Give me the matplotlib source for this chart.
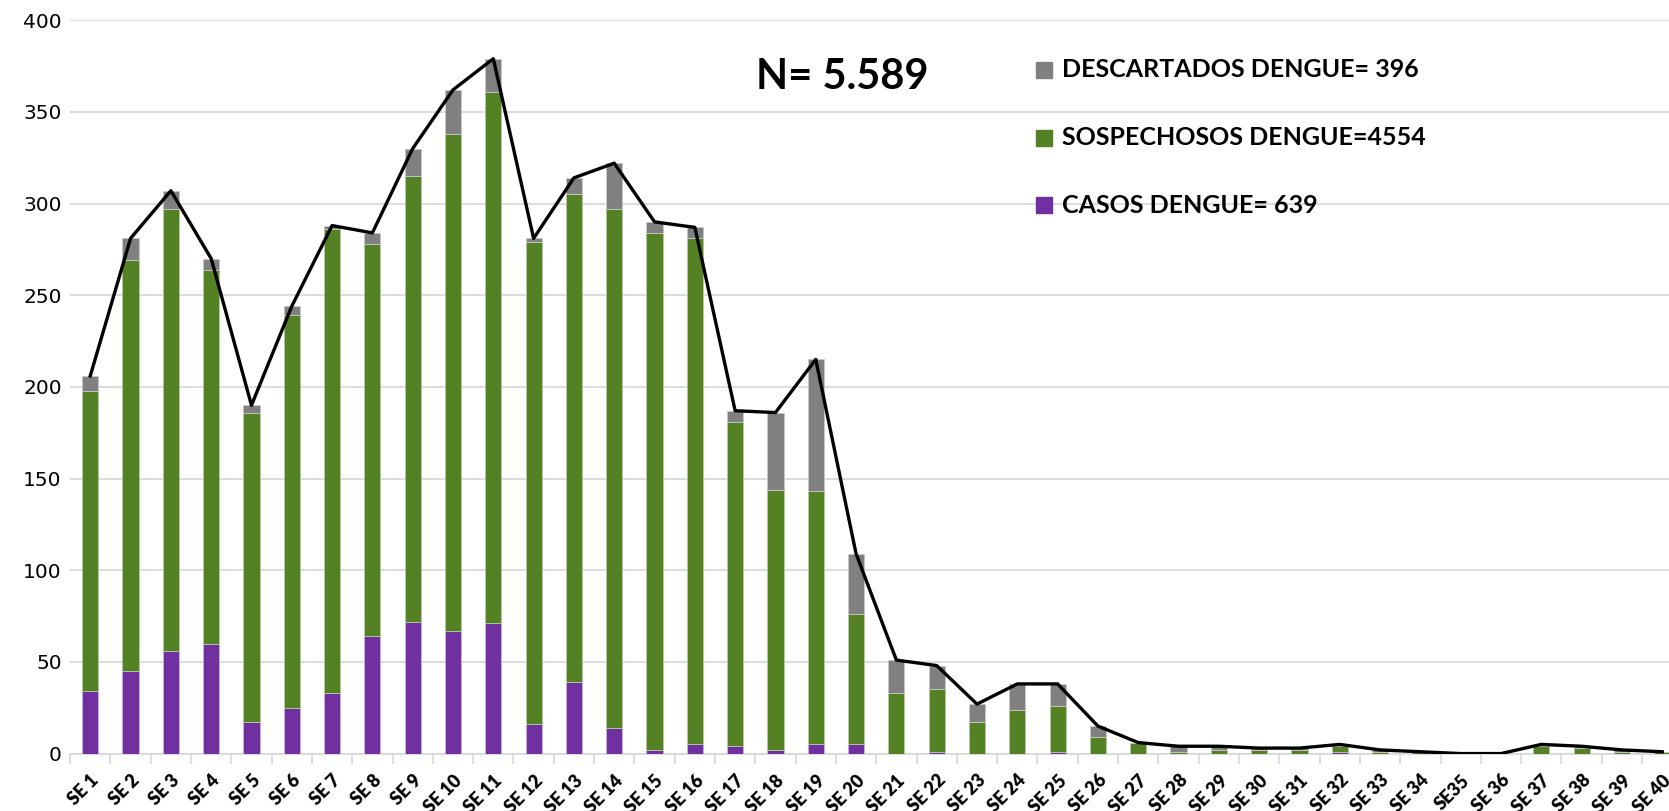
import numpy as np
import matplotlib
matplotlib.use("Agg")
import matplotlib.pyplot as plt
from matplotlib.patches import Rectangle

# Semanas epidemiológicas
semanas = ["SE 1", "SE 2", "SE 3", "SE 4", "SE 5", "SE 6", "SE 7", "SE 8", "SE 9", "SE 10",
           "SE 11", "SE 12", "SE 13", "SE 14", "SE 15", "SE 16", "SE 17", "SE 18", "SE 19", "SE 20",
           "SE 21", "SE 22", "SE 23", "SE 24", "SE 25", "SE 26", "SE 27", "SE 28", "SE 29", "SE 30",
           "SE 31", "SE 32", "SE 33", "SE 34", "SE35", "SE 36", "SE 37", "SE 38", "SE 39", "SE 40"]

# Casos confirmados (morado)
casos = [34, 45, 56, 60, 17, 25, 33, 64, 72, 67,
         71, 16, 39, 14, 2, 5, 4, 2, 5, 5,
         0, 1, 0, 0, 1, 0, 0, 0, 0, 0,
         0, 1, 0, 0, 0, 0, 0, 0, 0, 0]

# Sospechosos (verde)
sospechosos = [164, 224, 241, 204, 169, 214, 253, 214, 243, 271,
               290, 263, 266, 283, 282, 276, 177, 142, 138, 71,
               33, 34, 17, 24, 25, 9, 6, 1, 2, 2,
               2, 3, 1, 1, 0, 0, 4, 3, 1, 1]

# Descartados (gris)
descartados = [8, 12, 10, 6, 4, 5, 2, 6, 15, 24,
               18, 2, 9, 25, 6, 6, 6, 42, 72, 33,
               18, 13, 10, 14, 12, 6, 0, 3, 2, 1,
               1, 1, 1, 0, 0, 0, 1, 1, 1, 0]

casos = np.array(casos)
sospechosos = np.array(sospechosos)
descartados = np.array(descartados)
total = casos + sospechosos + descartados

c_morado = "#7030A0"
c_verde = "#538124"
c_gris = "#808080"

fig = plt.figure(figsize=(16.69, 8.11), dpi=100)
ax = fig.add_axes([0.042, 0.0708, 0.966, 0.9043])

x = np.arange(len(semanas))
ancho = 0.4
ax.bar(x, casos, ancho, color=c_morado, edgecolor="#c9b3d9", linewidth=0.6, zorder=3)
ax.bar(x, sospechosos, ancho, bottom=casos, color=c_verde, edgecolor="#b5c9a5", linewidth=0.6, zorder=3)
ax.bar(x, descartados, ancho, bottom=casos + sospechosos, color=c_gris, edgecolor="#c8c8c8", linewidth=0.6, zorder=3)
ax.plot(x, total, color="black", linewidth=2.4, zorder=4)

ax.set_xlim(-0.5, len(semanas) - 0.5)
ax.set_ylim(0, 400)
ax.set_yticks(range(0, 401, 50))
ax.grid(axis="y", color="#d9d9d9", linewidth=1.3, zorder=0)
for s in ["top", "right", "left"]:
    ax.spines[s].set_visible(False)
ax.spines["bottom"].set_color("#d9d9d9")
ax.spines["bottom"].set_linewidth(1.3)

ax.tick_params(axis="y", length=0, pad=6, labelsize=14.5, labelcolor="black")
ax.set_xticks(x)
ax.set_xticklabels(semanas, rotation=45, ha="right", rotation_mode="anchor",
                   fontsize=13, fontweight="heavy", family="Lato")
ax.tick_params(axis="x", which="major", length=0, pad=13)
ax.set_xticks(np.arange(-0.5, len(semanas), 1), minor=True)
ax.tick_params(axis="x", which="minor", length=7, color="#d9d9d9", width=1.3)

# Texto N
fig.text(0.453, 0.905, "N= 5.589", fontsize=30, fontweight="bold", family="Lato",
         va="center", ha="left")

# Leyenda manual
etiquetas = ["DESCARTADOS DENGUE= 396", "SOSPECHOSOS DENGUE=4554", "CASOS DENGUE= 639"]
colores = [c_gris, c_verde, c_morado]
ys = [0.914, 0.830, 0.747]
W, H = fig.get_size_inches() * fig.dpi
for lab, col, yy in zip(etiquetas, colores, ys):
    fig.add_artist(Rectangle((1036 / W, yy - 8 / H), 16 / W, 16 / H,
                             transform=fig.transFigure, color=col))
    fig.text(1062 / W, yy, lab, fontsize=18, fontweight="bold", family="Lato",
             va="center", ha="left")

fig.savefig("out.png", dpi=100)
